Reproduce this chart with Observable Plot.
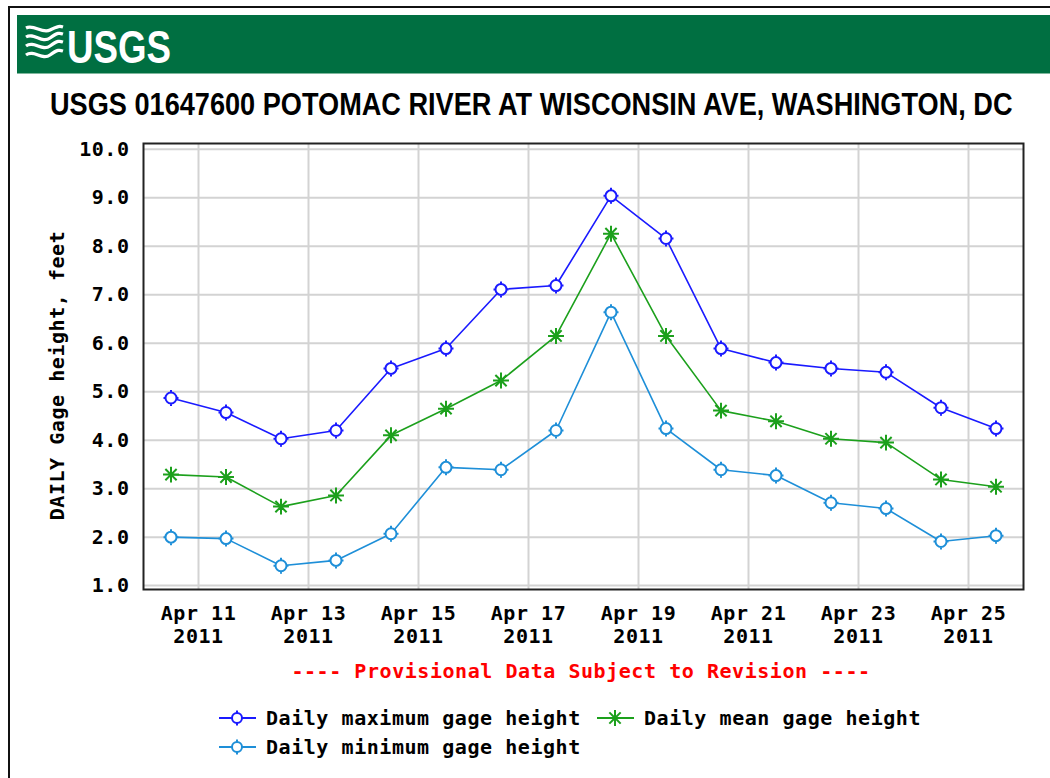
<!DOCTYPE html>
<html>
<head>
<meta charset="utf-8">
<script src="https://cdn.jsdelivr.net/npm/d3@7"></script>
<script src="https://cdn.jsdelivr.net/npm/@observablehq/plot@0.6"></script>
<style>
  html, body { margin:0; padding:0; background:#fff; }
  #wrap { position:relative; width:1050px; height:778px; overflow:hidden; background:#fff; }
  #border { position:absolute; left:8px; top:6px; width:1100px; height:900px; border-left:2px solid #111; border-top:2px solid #111; }
  #bar { position:absolute; left:17px; top:15px; width:1040px; height:58px; background:#006f41; border-bottom:1px solid #7fb79d; }
  #logo { position:absolute; left:22px; top:16px; }
  #title { position:absolute; left:0; top:76px; }
  #chart { position:absolute; left:0; top:0; }
  .mono { font-family:"DejaVu Sans Mono", monospace; font-weight:bold; font-size:20px; letter-spacing:0.55px; }
  #prov { position:absolute; left:0; width:1162px; top:659px; text-align:center; color:#ff0000; white-space:pre; }
  .leg { position:absolute; display:flex; align-items:center; white-space:pre; color:#000; }
  .leg svg { margin-right:8px; }
</style>
</head>
<body>
<div id="wrap">
  <div id="border"></div>
  <div id="bar"></div>
  <svg id="logo" width="220" height="56">
    <g fill="none" stroke="#fff" stroke-width="3.2">
      <path d="M4 12 C12 8, 20 18, 28 14 S 38 10, 41 11"/>
      <path d="M4 21 C12 16, 20 28, 28 22 S 38 17, 41 18"/>
      <path d="M4 30 C12 24, 20 36, 28 30 S 38 25, 41 26"/>
      <path d="M4 39 C12 33, 20 45, 28 39 S 38 34, 41 35"/>
    </g>
    <text x="45" y="47" fill="#fff" font-family="'Liberation Sans Narrow','Liberation Sans',Arial,sans-serif" font-weight="bold" font-size="46" textLength="104" lengthAdjust="spacingAndGlyphs">USGS</text>
  </svg>
  <svg id="title" width="1050" height="55">
    <g id="titleG"><text id="titleT" x="0" y="39" fill="#000" font-family="'Liberation Sans Narrow','Liberation Sans',Arial,sans-serif" font-weight="bold" font-size="31">USGS 01647600 POTOMAC RIVER AT WISCONSIN AVE, WASHINGTON, DC</text></g>
  </svg>
  <div id="chart"></div>
  <div id="prov" class="mono">---- Provisional Data Subject to Revision ----</div>
  <div id="legend"></div>
</div>
<script>
// ---- data ----
const days = ["2011-04-10","2011-04-11","2011-04-12","2011-04-13","2011-04-14","2011-04-15","2011-04-16","2011-04-17",
              "2011-04-18","2011-04-19","2011-04-20","2011-04-21","2011-04-22","2011-04-23","2011-04-24","2011-04-25"];
const maxHeight  = [4.87, 4.57, 4.03, 4.20, 5.48, 5.89, 7.11, 7.19, 9.04, 8.16, 5.89, 5.60, 5.48, 5.40, 4.67, 4.24];
const meanHeight = [3.29, 3.24, 2.63, 2.86, 4.10, 4.65, 5.23, 6.15, 8.26, 6.15, 4.61, 4.39, 4.03, 3.95, 3.19, 3.04];
const minHeight  = [2.00, 1.97, 1.41, 1.52, 2.07, 3.44, 3.39, 4.20, 6.64, 4.24, 3.39, 3.27, 2.71, 2.59, 1.91, 2.03];
const seriesNames = ["Daily maximum gage height", "Daily mean gage height", "Daily minimum gage height"];
const seriesColors = ["#1a1aff", "#1ca01c", "#1e8fd8"];
const yTicks = [1, 2, 3, 4, 5, 6, 7, 8, 9, 10];
const xTickDays = ["2011-04-11","2011-04-13","2011-04-15","2011-04-17","2011-04-19","2011-04-21","2011-04-23","2011-04-25"];
const xDomainDays = ["2011-04-10","2011-04-26"];
const yLabel = "DAILY Gage height, feet";

// ---- title fit ----
(function fitTitle() {
  const t = document.getElementById("titleT");
  const w = t.getComputedTextLength();
  const s = 963 / w;
  document.getElementById("titleG").setAttribute("transform", `translate(50,0) scale(${s},1)`);
})();

// ---- build ----
const noon = s => new Date(s + "T12:00:00Z");
const midnight = s => new Date(s + "T00:00:00Z");
const allSeries = [maxHeight, meanHeight, minHeight];
const rows = [];
allSeries.forEach((vals, i) => vals.forEach((v, j) => rows.push({series: seriesNames[i], date: noon(days[j]), value: v})));
const xTicks = xTickDays.map(midnight);
const months = ["Jan","Feb","Mar","Apr","May","Jun","Jul","Aug","Sep","Oct","Nov","Dec"];
const fmtDate = d => `${months[d.getUTCMonth()]} ${d.getUTCDate()}\n${d.getUTCFullYear()}`;

const ring = {draw(ctx, size) {
  const r = Math.sqrt(size / Math.PI);
  ctx.moveTo(r, 0); ctx.arc(0, 0, r, 0, 2 * Math.PI);
  ctx.moveTo(0, -r); ctx.lineTo(0, -r - 2.5);
  ctx.moveTo(0, r); ctx.lineTo(0, r + 2.5);
  ctx.moveTo(-r, 0); ctx.lineTo(-r - 2, 0);
  ctx.moveTo(r, 0); ctx.lineTo(r + 2, 0);
}};
const star = {draw(ctx, size) {
  const R = Math.sqrt(size / Math.PI) * 1.45;
  for (let k = 0; k < 8; k++) {
    const a = k * Math.PI / 4;
    ctx.moveTo(0, 0); ctx.lineTo(Math.cos(a) * R, Math.sin(a) * R);
  }
}};
const symbols = [ring, star, ring];

const marks = [
  Plot.gridX(xTicks, {stroke: "#d3d3d3", strokeOpacity: 1, strokeWidth: 2}),
  Plot.gridY(yTicks, {stroke: "#d3d3d3", strokeOpacity: 1, strokeWidth: 2}),
  Plot.frame({stroke: "#222", strokeWidth: 2}),
  Plot.axisY(yTicks, {tickSize: 0, tickPadding: 14, tickFormat: d => d.toFixed(1), label: null}),
  Plot.axisX(xTicks, {tickSize: 0, tickPadding: 14, tickFormat: fmtDate, label: null, lineHeight: 1.15}),
  Plot.text([yLabel], {frameAnchor: "left", textAnchor: "middle", rotate: -90, dx: -86, dy: 9, fill: "#000", fontSize: 20})
];
seriesNames.forEach((name, i) => {
  const data = rows.filter(r => r.series === name);
  marks.push(Plot.line(data, {x: "date", y: "value", stroke: seriesColors[i], strokeWidth: 1.6}));
  marks.push(Plot.dot(data, {x: "date", y: "value", stroke: seriesColors[i], strokeWidth: 2, r: 5.5, symbol: symbols[i], fill: "white", fillOpacity: i === 1 ? 0 : 1}));
});

const chart = Plot.plot({
  width: 1050, height: 665,
  marginTop: 143, marginLeft: 143, marginRight: 27, marginBottom: 76,
  x: {type: "utc", domain: xDomainDays.map(midnight)},
  y: {domain: [0.92, 10.12]},
  style: {fontFamily: "'DejaVu Sans Mono', monospace", fontWeight: "bold", fontSize: "20px", letterSpacing: "0.55px", background: "transparent", color: "#000"},
  marks
});
document.getElementById("chart").appendChild(chart);

// legend
const legendPos = [[218, 706], [596, 706], [218, 735]];
const leg = document.getElementById("legend");
seriesNames.forEach((name, i) => {
  const d = document.createElement("div");
  d.className = "leg mono";
  d.style.left = legendPos[i][0] + "px";
  d.style.top = legendPos[i][1] + "px";
  const isStar = i === 1;
  const inner = isStar
    ? Array.from({length: 8}, (_, k) => { const a = k * Math.PI / 4; return `<line x1="19" y1="12" x2="${19 + Math.cos(a) * 8}" y2="${12 + Math.sin(a) * 8}"/>`; }).join("")
    : `<circle cx="19" cy="12" r="5" fill="#fff"/><line x1="19" y1="4.5" x2="19" y2="7"/><line x1="19" y1="17" x2="19" y2="19.5"/>`;
  d.innerHTML = `<svg width="40" height="24"><g stroke="${seriesColors[i]}" stroke-width="2"><line x1="1" y1="12" x2="${isStar ? 11 : 14}" y2="12"/><line x1="${isStar ? 27 : 24}" y1="12" x2="38" y2="12"/>${inner}</g></svg>${name}`;
  leg.appendChild(d);
});
</script>
</body>
</html>
